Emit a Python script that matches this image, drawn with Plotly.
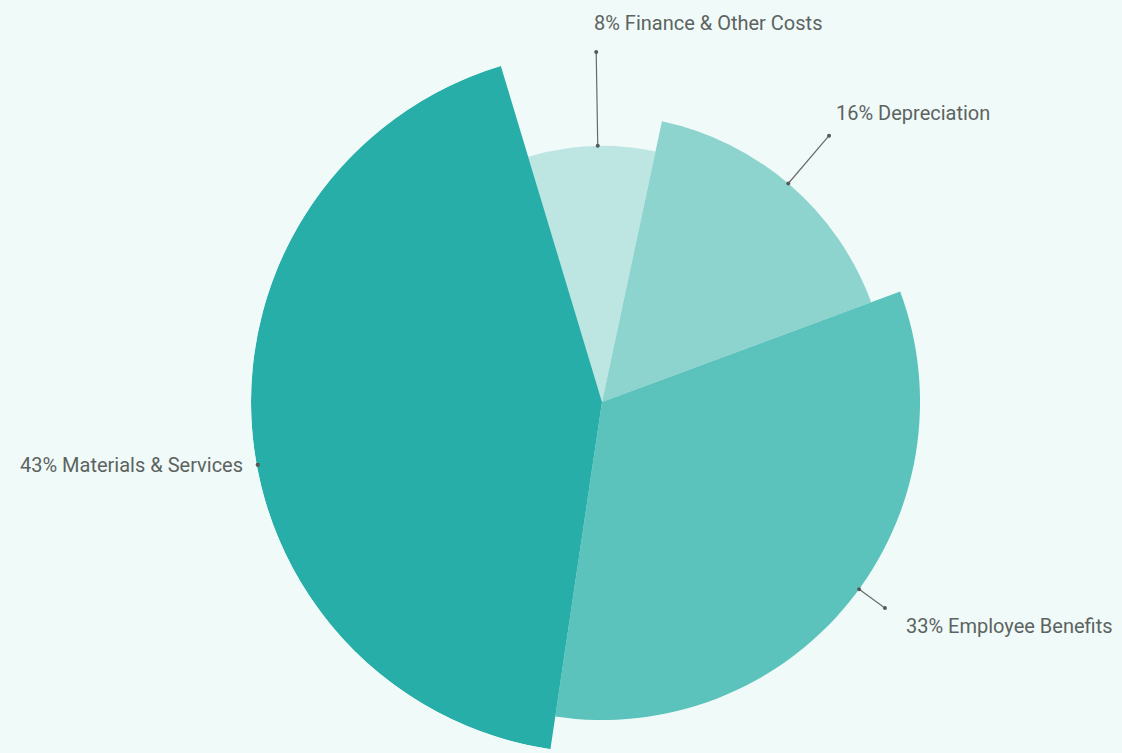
import numpy as np
import plotly.graph_objects as go

# Cost breakdown (share of total, %)
categories = ["Finance & Other Costs", "Depreciation", "Employee Benefits", "Materials & Services"]
shares = [8, 16, 33, 43]

# Styling
slice_colors = ["#bde6e3", "#8dd4cf", "#5bc2bc", "#28aea8"]
slice_radius = [0.73, 0.818, 0.906, 1.0]       # each slice pushed out a step further
start_angle = -16.75                            # degrees, clockwise from 12 o'clock
label_nudge = [1.4, -0.4, -3.0, -6.2]           # degrees, keeps labels clear of each other
label_style = [  # (xanchor, xshift, yshift) in px, relative to the outer leader dot
    ("left", -4, 29),
    ("left", 5, 23),
    ("left", 19, -18),
    ("right", -13, 0),
]
BG = "#f0faf8"
INK = "#5c6361"
W, H = 1122, 753
CX, CY, R_PX = 602, 402, 351

widths = [s * 3.6 for s in shares]
ends = start_angle + np.cumsum(widths)
centers = ends - np.array(widths) / 2

fig = go.Figure()
fig.add_trace(go.Barpolar(
    r=slice_radius,
    theta=centers,
    width=widths,
    marker=dict(color=slice_colors, line=dict(width=0)),
    hoverinfo="skip",
    showlegend=False,
))

annotations = []
r_out = 0.997
for i, name in enumerate(categories):
    ang = centers[i] + label_nudge[i]
    r_in = min(slice_radius[i], r_out)
    fig.add_trace(go.Scatterpolar(
        r=[r_in, r_out],
        theta=[ang, ang],
        mode="lines+markers",
        line=dict(color="#666b6a", width=1.2),
        marker=dict(color="#555a59", size=4),
        hoverinfo="skip",
        showlegend=False,
    ))
    rad = np.deg2rad(ang)
    px = CX + R_PX * r_out * np.sin(rad)
    py = CY - R_PX * r_out * np.cos(rad)
    xa, xs, ys = label_style[i]
    annotations.append(dict(
        x=px / W, y=1 - py / H, xref="paper", yref="paper",
        text=f"{shares[i]}% {name}", showarrow=False,
        xanchor=xa, yanchor="middle", xshift=xs, yshift=ys,
        font=dict(family="Roboto", size=20, color=INK),
    ))

fig.update_layout(
    width=W, height=H,
    margin=dict(l=0, r=0, t=0, b=0),
    paper_bgcolor=BG, plot_bgcolor=BG,
    annotations=annotations,
    polar=dict(
        domain=dict(x=[(CX - R_PX) / W, (CX + R_PX) / W], y=[0, 2 * R_PX / H]),
        bgcolor="rgba(0,0,0,0)",
        bargap=0,
        hole=0,
        radialaxis=dict(visible=False, range=[0, 1]),
        angularaxis=dict(visible=False, rotation=90, direction="clockwise"),
    ),
)

fig.write_html("out.html")
